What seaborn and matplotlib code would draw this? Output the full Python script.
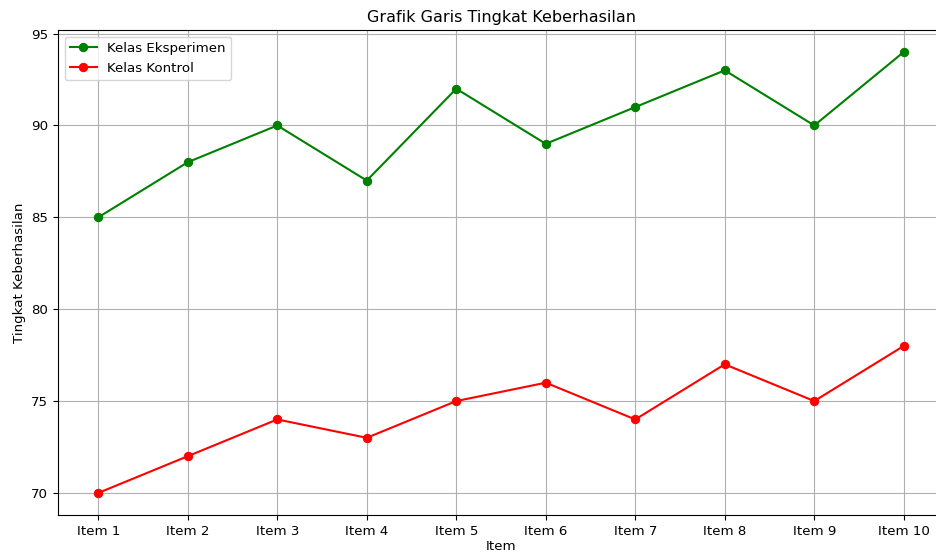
import numpy as np
import pandas as pd
import matplotlib
matplotlib.use("Agg")
import matplotlib.pyplot as plt
import seaborn as sns

items = [f"Item {i}" for i in range(1, 11)]
eksperimen = [85, 88, 90, 87, 92, 89, 91, 93, 90, 94]
kontrol = [70, 72, 74, 73, 75, 76, 74, 77, 75, 78]

df = pd.DataFrame({"Item": items, "Eksperimen": eksperimen, "Kontrol": kontrol})

plt.rcParams["font.size"] = 9.6

fig = plt.figure(figsize=(9.37, 5.55), dpi=100)
ax = fig.add_axes([0.0619, 0.0721, 0.9456, 0.874])

sns.lineplot(data=df, x="Item", y="Eksperimen", marker="o", color="green",
             markeredgecolor="green", markersize=6, label="Kelas Eksperimen", ax=ax, sort=False)
sns.lineplot(data=df, x="Item", y="Kontrol", marker="o", color="red",
             markeredgecolor="red", markersize=6, label="Kelas Kontrol", ax=ax, sort=False)

ax.set_title("Grafik Garis Tingkat Keberhasilan")
ax.set_xlabel("Item", labelpad=2)
ax.set_ylabel("Tingkat Keberhasilan")
ax.grid(True)
ax.legend(loc="upper left")

fig.savefig("out.png", dpi=100)
